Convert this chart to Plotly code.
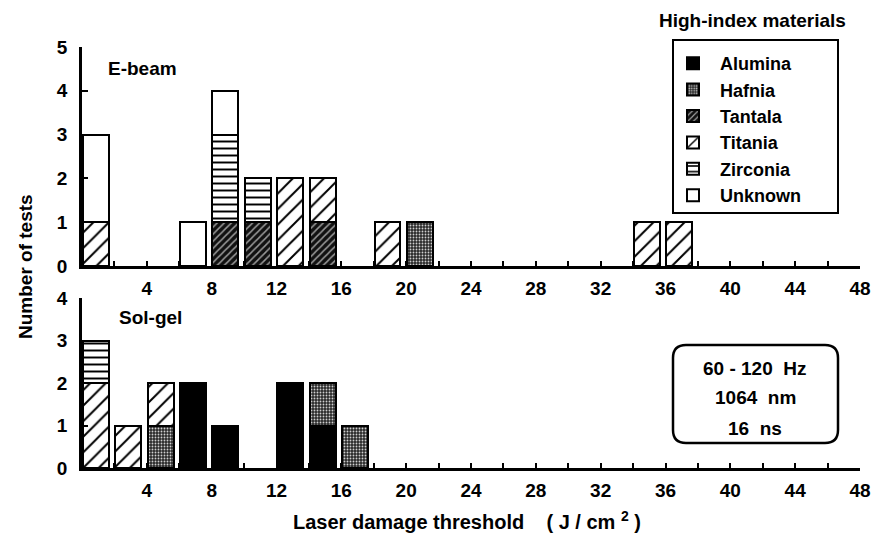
import plotly.graph_objects as go

# ---------------- data ----------------
materials = ["Alumina", "Hafnia", "Tantala", "Titania", "Zirconia", "Unknown"]
x_tick_values = [4, 8, 12, 16, 20, 24, 28, 32, 36, 40, 44, 48]

# E-beam panel: bin left edges (J/cm^2, bins of 2) and counts per material
ebeam_bins = [0, 6, 8, 10, 12, 14, 18, 20, 34, 36]
ebeam_alumina = [0, 0, 0, 0, 0, 0, 0, 0, 0, 0]
ebeam_hafnia = [0, 0, 0, 0, 0, 0, 0, 1, 0, 0]
ebeam_tantala = [0, 0, 1, 1, 0, 1, 0, 0, 0, 0]
ebeam_titania = [1, 0, 0, 0, 2, 1, 1, 0, 1, 1]
ebeam_zirconia = [0, 0, 2, 1, 0, 0, 0, 0, 0, 0]
ebeam_unknown = [2, 1, 1, 0, 0, 0, 0, 0, 0, 0]

# Sol-gel panel
solgel_bins = [0, 2, 4, 6, 8, 12, 14, 16]
solgel_alumina = [0, 0, 0, 2, 1, 2, 1, 0]
solgel_hafnia = [0, 0, 1, 0, 0, 0, 1, 1]
solgel_tantala = [0, 0, 0, 0, 0, 0, 0, 0]
solgel_titania = [2, 1, 1, 0, 0, 0, 0, 0]
solgel_zirconia = [1, 0, 0, 0, 0, 0, 0, 0]
solgel_unknown = [0, 0, 0, 0, 0, 0, 0, 0]

ebeam_counts = [ebeam_alumina, ebeam_hafnia, ebeam_tantala,
                ebeam_titania, ebeam_zirconia, ebeam_unknown]
solgel_counts = [solgel_alumina, solgel_hafnia, solgel_tantala,
                 solgel_titania, solgel_zirconia, solgel_unknown]

# ---------------- styles ----------------
FONT = "Liberation Sans, Arial, Helvetica, sans-serif"
FS = 19
styles = {
    "Alumina": dict(color="black", pattern=dict(shape="")),
    "Hafnia": dict(color="#444444", pattern=dict(shape=".", bgcolor="#2a2a2a",
                                                 fgcolor="#cfcfcf", size=3,
                                                 solidity=0.3, fillmode="replace")),
    "Tantala": dict(color="#111111", pattern=dict(shape="/", bgcolor="#111111",
                                                  fgcolor="#9a9a9a", size=5,
                                                  solidity=0.3, fillmode="replace")),
    "Titania": dict(color="white", pattern=dict(shape="/", bgcolor="white",
                                                fgcolor="black", size=11,
                                                solidity=0.18, fillmode="replace")),
    "Zirconia": dict(color="white", pattern=dict(shape="-", bgcolor="white",
                                                 fgcolor="black", size=7,
                                                 solidity=0.28, fillmode="replace")),
    "Unknown": dict(color="white", pattern=dict(shape="")),
}

fig = go.Figure()


def add_panel(bins, counts, xa, ya, legend):
    for name, vals in zip(materials, counts):
        st = styles[name]
        fig.add_trace(go.Bar(
            x=bins,
            y=[v if v else None for v in vals],
            width=1.6, offset=0.05,
            xaxis=xa, yaxis=ya,
            name=name, legendgroup=name, showlegend=legend,
            marker=dict(color=st["color"], pattern=st["pattern"],
                        line=dict(color="black", width=2)),
            hoverinfo="skip",
        ))


add_panel(ebeam_bins, ebeam_counts, "x", "y", True)
add_panel(solgel_bins, solgel_counts, "x2", "y2", False)

# pixel -> paper helpers for layout decorations
L, R, T, B = 82, 860, 47, 468
def px(x):
    return (x - L) / (R - L)
def py(y):
    return (B - y) / (B - T)

tfont = dict(family=FONT, size=FS, color="black", weight="bold")
xaxis_common = dict(range=[0, 48], tickmode="array", tickvals=x_tick_values,
                    ticks="inside", ticklen=5, tickwidth=2,
                    tickcolor="black", showline=True, linewidth=2.5,
                    linecolor="black", showgrid=False, zeroline=False,
                    minor=dict(tick0=0, dtick=2, ticks="inside", ticklen=5,
                               tickwidth=2, tickcolor="black", showgrid=False),
                    tickfont=tfont, ticklabelstandoff=3, fixedrange=True,
                    automargin=False)
yaxis_common = dict(ticks="inside", ticklen=6, tickwidth=2, tickcolor="black",
                    showline=True, linewidth=2.5, linecolor="black",
                    showgrid=False, zeroline=False, tickmode="linear", dtick=1,
                    tickfont=tfont, ticklabelstandoff=8, fixedrange=True,
                    automargin=False)

fig.update_layout(
    width=875, height=539, autosize=False,
    margin=dict(l=L, r=875 - R, t=T, b=539 - B, autoexpand=False),
    paper_bgcolor="white", plot_bgcolor="white",
    font=dict(family=FONT, size=FS, color="black", weight="bold"),
    barmode="stack", bargap=0,
    xaxis=dict(domain=[0, 1], anchor="y", **xaxis_common),
    yaxis=dict(domain=[py(266), 1], anchor="x", range=[0, 5], **yaxis_common),
    xaxis2=dict(domain=[0, 1], anchor="y2", **xaxis_common),
    yaxis2=dict(domain=[0, py(298)], anchor="x2", range=[0, 4], **yaxis_common),
    legend=dict(x=px(666), y=py(45), xanchor="left", yanchor="top",
                bgcolor="rgba(0,0,0,0)", borderwidth=0,
                traceorder="normal", itemwidth=44,
                font=dict(family=FONT, size=18, color="black", weight="bold")),
    showlegend=True,
)

shapes = [
    # legend frame
    dict(type="rect", xref="paper", yref="paper", x0=px(673), x1=px(838),
         y0=py(213), y1=py(40), line=dict(color="black", width=2)),
]
# rounded box for laser conditions
x0, x1, y0, y1, r = 673, 838, 345, 443, 13
path = (f"M {px(x0 + r)},{py(y0)} L {px(x1 - r)},{py(y0)} "
        f"Q {px(x1)},{py(y0)} {px(x1)},{py(y0 + r)} "
        f"L {px(x1)},{py(y1 - r)} Q {px(x1)},{py(y1)} {px(x1 - r)},{py(y1)} "
        f"L {px(x0 + r)},{py(y1)} Q {px(x0)},{py(y1)} {px(x0)},{py(y1 - r)} "
        f"L {px(x0)},{py(y0 + r)} Q {px(x0)},{py(y0)} {px(x0 + r)},{py(y0)} Z")
shapes.append(dict(type="path", xref="paper", yref="paper", path=path,
                   line=dict(color="black", width=2.5)))
fig.update_layout(shapes=shapes)

annotations = [
    dict(text="High-index materials", x=px(752), y=py(20)),
    dict(text="E-beam", x=px(142), y=py(68)),
    dict(text="Sol-gel", x=px(150), y=py(318)),
    dict(text="60 - 120  Hz", x=px(755), y=py(368)),
    dict(text="1064  nm", x=px(755), y=py(397)),
    dict(text="16  ns", x=px(755), y=py(428)),
    dict(text="Laser damage threshold    ( J / cm <sup>2</sup> )", x=px(467), y=py(520),
         size=20),
    dict(text="Number of tests", x=px(25), y=py(267), textangle=-90),
]
for a in annotations:
    size = a.pop("size", FS)
    a.update(xref="paper", yref="paper", showarrow=False,
             font=dict(family=FONT, size=size, color="black", weight="bold"),
             xanchor="center", yanchor="middle")
fig.update_layout(annotations=annotations)

fig.write_html("out.html", config={"displayModeBar": False},
               post_script="document.body.style.margin='0px';"
                           "document.body.style.overflow='hidden';")
